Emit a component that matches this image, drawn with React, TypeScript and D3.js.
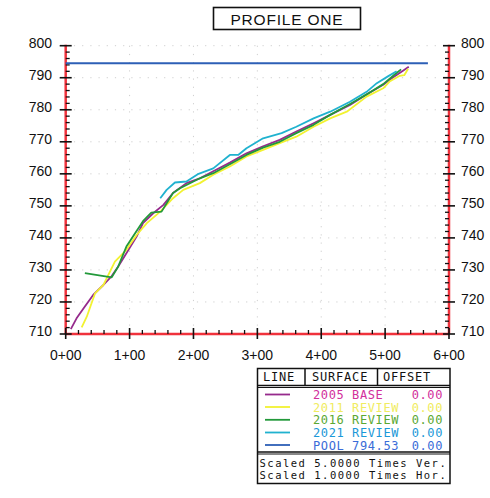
import React from "react";
import * as d3 from "d3";

const yTicks = [710, 720, 730, 740, 750, 760, 770, 780, 790, 800];
const xTicks = [0, 100, 200, 300, 400, 500, 600];
const xTickLabels = ["0+00", "1+00", "2+00", "3+00", "4+00", "5+00", "6+00"];

const base2005: [number, number][] = [
  [8, 711.5], [17, 714.9], [30, 718.6], [43, 722.2], [59, 725.3], [72, 728.1], [82, 731.0],
  [95, 735.2], [111, 740.4], [121, 744.6], [137, 747.7], [153, 750.3], [168, 754.0],
  [189, 757.1], [210, 758.6], [231, 760.8], [257, 763.5], [283, 766.4], [309, 768.6],
  [335, 770.6], [361, 773.2], [388, 775.8], [414, 778.4], [445, 781.5], [471, 784.8],
  [497, 787.8], [515, 790.5], [528, 792.2], [537, 793.4],
];
const review2011: [number, number][] = [
  [25, 712.1], [33, 715.4], [46, 722.7], [59, 725.3], [77, 732.6], [95, 736.3], [111, 740.9],
  [127, 744.6], [148, 748.2], [168, 752.4], [184, 755.0], [210, 757.1], [231, 759.7],
  [257, 762.3], [283, 765.4], [309, 767.5], [335, 769.6], [361, 771.6], [388, 774.7],
  [414, 777.3], [440, 779.4], [471, 784.1], [497, 786.7], [507, 788.8], [523, 790.6],
  [530, 790.8], [536, 792.8],
];
const review2016: [number, number][] = [
  [30, 729.0], [72, 727.7], [82, 731.0], [95, 737.3], [121, 745.2], [134, 747.9], [150, 748.2],
  [168, 754.0], [179, 755.5], [200, 757.6], [210, 758.6], [231, 760.2], [257, 763.0],
  [283, 765.9], [309, 768.2], [335, 770.0], [361, 772.7], [388, 775.3], [414, 778.4],
  [445, 781.8], [471, 784.8], [497, 788.0], [515, 791.0], [525, 792.6],
];
const review2021: [number, number][] = [
  [148, 752.4], [158, 755.0], [171, 757.3], [189, 757.6], [208, 760.0], [231, 761.7],
  [257, 765.9], [270, 765.9], [283, 768.0], [309, 771.1], [338, 772.7], [361, 774.7],
  [388, 777.3], [414, 779.4], [445, 782.5], [471, 785.6], [487, 788.3], [505, 790.5], [518, 792.0],
];
const poolElev = 794.53;
const poolStations = [0, 567];

const legendNames = ["2005 BASE", "2011 REVIEW", "2016 REVIEW", "2021 REVIEW", "POOL 794.53"];
const legendOffsets = ["0.00", "0.00", "0.00", "0.00", "0.00"];
const lineColors = ["#962a8c", "#f2f230", "#22993a", "#20b2cf", "#2d5fb6"];
const textColors = ["#d2309c", "#f0ec60", "#5aa832", "#1a98d8", "#3a6cd8"];

export default function App() {
  const x = d3.scaleLinear().domain([0, 600]).range([65.7, 449]);
  const y = d3.scaleLinear().domain([710, 800]).range([334, 45.7]);
  const line = d3.line<[number, number]>().x((d) => x(d[0])).y((d) => y(d[1]));
  const series = [base2005, review2011, review2016, review2021];
  const minorY = d3.range(710, 800.1, 2).filter((v) => v % 10 !== 0);
  const minorX = d3.range(0, 600.1, 20).filter((v) => v % 100 !== 0);
  const sans = "'Liberation Sans', Arial, sans-serif";
  const mono = "'DejaVu Sans Mono', monospace";
  const rowY = [394.5, 407, 419.8, 432.5, 445];

  return (
    <svg width={490} height={498} style={{ position: "absolute", left: 0, top: 0, background: "#fff" }}>
      {/* title */}
      <rect x={213.5} y={7.5} width={147} height={22} fill="none" stroke="#111" strokeWidth={1.6} />
      <text x={287} y={24.5} textAnchor="middle" fontFamily={sans} fontSize={15.5} letterSpacing={0.8} fill="#111">
        PROFILE ONE
      </text>

      {/* grid */}
      {yTicks.filter((v) => v > 710).map((v) => (
        <line key={"gy" + v} x1={x(0)} x2={x(600)} y1={y(v)} y2={y(v)} stroke="#cfcfcf" strokeWidth={1} strokeDasharray="1.2 7" />
      ))}
      {xTicks.filter((v) => v > 0 && v < 600).map((v) => (
        <line key={"gx" + v} x1={x(v)} x2={x(v)} y1={y(800)} y2={y(710)} stroke="#cfcfcf" strokeWidth={1} strokeDasharray="1.2 7" />
      ))}

      {/* axes */}
      <line x1={x(0)} x2={x(0)} y1={y(800) - 1} y2={y(710)} stroke="#f0323c" strokeWidth={2.5} />
      <line x1={x(600)} x2={x(600)} y1={y(800) - 1} y2={y(710)} stroke="#f0323c" strokeWidth={2.5} />
      <line x1={x(0)} x2={x(600)} y1={y(710)} y2={y(710)} stroke="#f0323c" strokeWidth={2.5} />

      {yTicks.map((v) => (
        <g key={"yt" + v}>
          <line x1={x(0) - 6} x2={x(0) + 6} y1={y(v)} y2={y(v)} stroke="#111" strokeWidth={1.6} />
          <line x1={x(600) - 6} x2={x(600) + 6} y1={y(v)} y2={y(v)} stroke="#111" strokeWidth={1.6} />
          <text x={52} y={y(v) + 2} textAnchor="end" fontFamily={sans} fontSize={14} fill="#111">{v}</text>
          <text x={461} y={y(v) + 2} textAnchor="start" fontFamily={sans} fontSize={14} fill="#111">{v}</text>
        </g>
      ))}
      {minorY.map((v) => (
        <g key={"my" + v}>
          <line x1={x(0)} x2={x(0) + 4} y1={y(v)} y2={y(v)} stroke="#111" strokeWidth={1.3} />
          <line x1={x(600) - 4} x2={x(600)} y1={y(v)} y2={y(v)} stroke="#111" strokeWidth={1.3} />
        </g>
      ))}
      {xTicks.map((v, i) => (
        <g key={"xt" + v}>
          <line x1={x(v)} x2={x(v)} y1={y(710) - 6} y2={y(710) + 5} stroke="#111" strokeWidth={1.6} />
          <text x={x(v)} y={360} textAnchor="middle" fontFamily={sans} fontSize={14} fill="#111">{xTickLabels[i]}</text>
        </g>
      ))}
      {minorX.map((v) => (
        <line key={"mx" + v} x1={x(v)} x2={x(v)} y1={y(710) - 4} y2={y(710)} stroke="#111" strokeWidth={1.3} />
      ))}

      {/* profiles */}
      {series.map((s, i) => (
        <path key={"s" + i} d={line(s) || ""} fill="none" stroke={lineColors[i]} strokeWidth={1.8} strokeLinejoin="round" />
      ))}
      <line x1={x(poolStations[0])} x2={x(poolStations[1])} y1={y(poolElev)} y2={y(poolElev)} stroke={lineColors[4]} strokeWidth={2} />

      {/* legend */}
      <rect x={257.5} y={368.5} width={192.5} height={115} fill="#fff" stroke="#111" strokeWidth={1.5} />
      <line x1={257.5} x2={450} y1={385.5} y2={385.5} stroke="#111" strokeWidth={1.5} />
      <line x1={257.5} x2={450} y1={387.5} y2={387.5} stroke="#111" strokeWidth={1} />
      <line x1={305} x2={305} y1={368.5} y2={385.5} stroke="#111" strokeWidth={1.5} />
      <line x1={377.5} x2={377.5} y1={368.5} y2={385.5} stroke="#111" strokeWidth={1.5} />
      <line x1={257.5} x2={450} y1={452} y2={452} stroke="#111" strokeWidth={1.5} />
      <line x1={257.5} x2={450} y1={454} y2={454} stroke="#111" strokeWidth={1} />
      <text x={263} y={381} fontFamily={mono} fontSize={12} letterSpacing={0.8} fill="#111">LINE</text>
      <text x={312} y={381} fontFamily={mono} fontSize={12} letterSpacing={0.8} fill="#111">SURFACE</text>
      <text x={383} y={381} fontFamily={mono} fontSize={12} letterSpacing={0.8} fill="#111">OFFSET</text>
      {legendNames.map((n, i) => (
        <g key={"lg" + i}>
          <line x1={265} x2={290} y1={rowY[i]} y2={rowY[i]} stroke={lineColors[i]} strokeWidth={1.8} />
          <text x={313} y={rowY[i] + 4.5} fontFamily={mono} fontSize={12} letterSpacing={0.6} fill={textColors[i]}>{n}</text>
          <text x={443} y={rowY[i] + 4.5} textAnchor="end" fontFamily={mono} fontSize={12} letterSpacing={0.6} fill={textColors[i]}>{legendOffsets[i]}</text>
        </g>
      ))}
      <text x={259.5} y={466.5} fontFamily={mono} fontSize={10.5} letterSpacing={1.5} fill="#111">Scaled 5.0000 Times Ver.</text>
      <text x={259.5} y={479} fontFamily={mono} fontSize={10.5} letterSpacing={1.5} fill="#111">Scaled 1.0000 Times Hor.</text>
    </svg>
  );
}
